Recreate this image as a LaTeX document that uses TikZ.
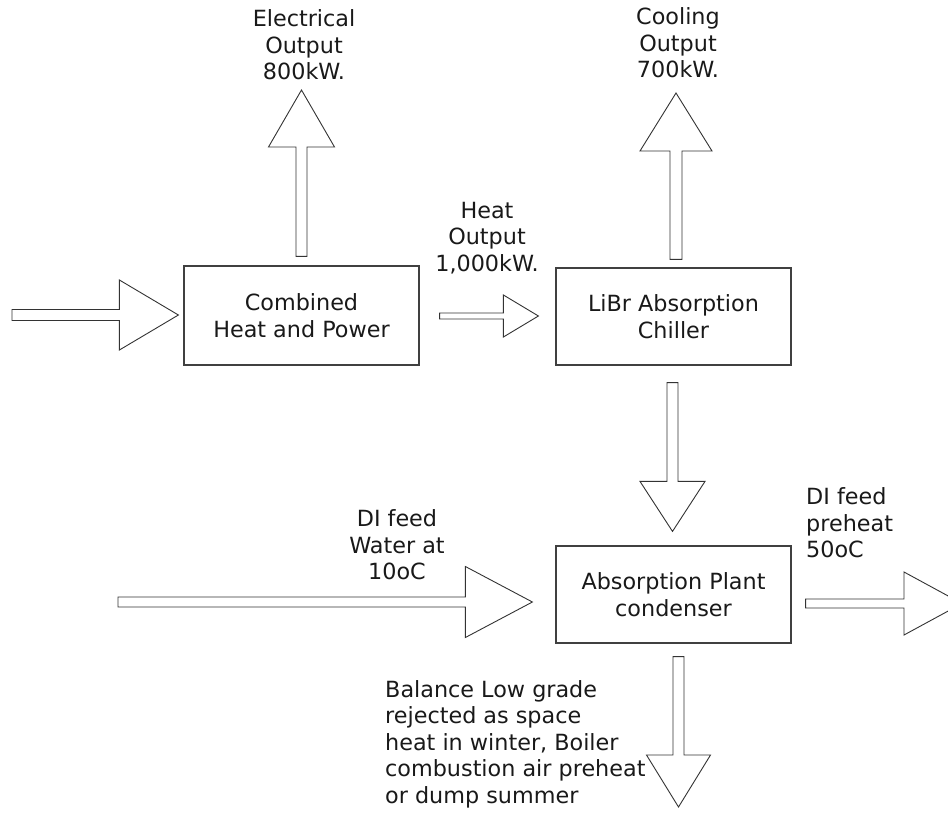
\documentclass[tikz,border=0pt]{standalone}
\usepackage{fontspec}
\setmainfont{DejaVu Sans}
\usetikzlibrary{calc}
\tikzset{
  blk/.style={draw=black!75,line width=1.2pt,minimum width=235pt,minimum height=97pt,inner sep=0pt,font=\fontsize{22.3}{26.5}\selectfont,text=black!90,align=center},
  lbl/.style={font=\fontsize{22.3}{26.5}\selectfont,text=black!90,inner sep=0pt,align=center},
  lbll/.style={lbl,align=left,anchor=west},
  fat/.style={draw=black!80,fill=white,line width=0.9pt,line join=miter}
}
% tail, tip, shaft half width, head half width, head length
\newcommand{\fatarrow}[5]{%
  \coordinate (hb) at ($(#2)!#5pt!(#1)$);
  \draw[fat] ($(#1)!#3pt!90:(#2)$) -- ($(hb)!#3pt!-90:(#1)$) -- ($(hb)!#4pt!-90:(#1)$) -- (#2)
    -- ($(hb)!#4pt!90:(#1)$) -- ($(hb)!#3pt!90:(#1)$) -- ($(#1)!#3pt!-90:(#2)$) -- cycle;
}

\begin{document}
\begin{tikzpicture}[x=1pt,y=-1pt]
\useasboundingbox (0,0) rectangle (948,819);

\node[blk,minimum height=99pt] (chp) at (301.5,315.5) {Combined\\Heat and Power};
\node[blk] (chiller) at (673.5,316.5) {LiBr Absorption\\Chiller};
\node[blk] (cond) at (673.5,594.5) {Absorption Plant\\condenser};

\node[lbl] (elec) at (304,45) {Electrical\\Output\\800kW.};
\node[lbl] (cool) at (678,43) {Cooling\\Output\\700kW.};
\node[lbl] (heat) at (487,238) {Heat\\Output\\1,000kW.};
\node[lbl] (feed) at (397,545) {DI feed\\Water at\\10oC};
\node[lbll] (pre) at (806,523) {DI feed\\preheat\\50oC};
\node[lbll] (bal) at (385,744) {Balance Low grade\\rejected as space\\heat in winter, Boiler\\combustion air preheat\\or dump summer};

\coordinate (inT) at (12,315);
\coordinate (inH) at ($(chp.west)+(-5,-0.5)$);
\coordinate (elT) at ($(chp.north)+(0,-9)$);
\coordinate (elH) at (301.5,90);
\coordinate (htT) at ($(chp.east)+(20,0.5)$);
\coordinate (htH) at ($(chiller.west)+(-17,-0.5)$);
\coordinate (clT) at ($(chiller.north)+(2.5,-8)$);
\coordinate (clH) at (676,93);
\coordinate (dnT) at ($(chiller.south)+(-1,17)$);
\coordinate (dnH) at ($(cond.north)+(-1,-14)$);
\coordinate (fdT) at (118,602);
\coordinate (fdH) at ($(cond.west)+(-23,7.5)$);
\coordinate (ouT) at ($(cond.east)+(14,9)$);
\coordinate (ouH) at (962,603.5);
\coordinate (rjT) at ($(cond.south)+(5,13)$);
\coordinate (rjH) at (678.5,807);

\fatarrow{inT}{inH}{5.5}{35}{59}
\fatarrow{elT}{elH}{5.5}{33}{57}
\fatarrow{htT}{htH}{3}{21}{35}
\fatarrow{clT}{clH}{6}{36}{58}
\fatarrow{dnT}{dnH}{5.5}{32.5}{50}
\fatarrow{fdT}{fdH}{5}{35.5}{67}
\fatarrow{ouT}{ouH}{4.5}{31.5}{58}
\fatarrow{rjT}{rjH}{5.5}{32}{52}
\end{tikzpicture}
\end{document}
